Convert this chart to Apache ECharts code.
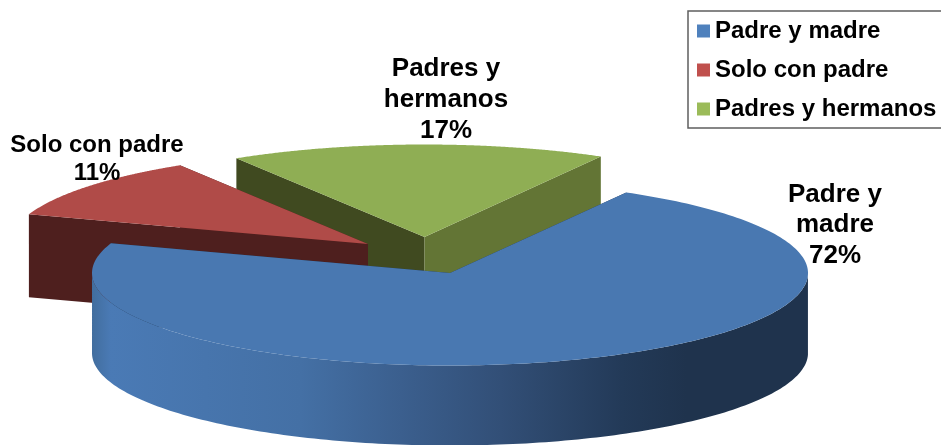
<!DOCTYPE html>
<html>
<head>
<meta charset="utf-8">
<style>html,body{margin:0;padding:0;background:#fff}#c{width:941px;height:445px}</style>
<script src="https://cdn.jsdelivr.net/npm/echarts@6/dist/echarts.min.js"></script>
</head>
<body>
<div id="c"></div>
<script>
const categories = ['Padre y madre', 'Solo con padre', 'Padres y hermanos'];
const values = [72, 11, 17];
const labelNames = ['Padre y\nmadre', 'Solo con padre', 'Padres y\nhermanos'];

const font = '"Liberation Sans", Arial, sans-serif';
const RX = 358, RY = 92.5, START_DEG = 60.5;
const layout = [
  {cx: 450, cy: 273, depth: 80, top: '#4978B1', faceA: '#1F334D', faceB: '#1F334D', legend: '#4F81BD', z: 4,
   label: {x: 835, y: 225, size: 26, lh: 30.5}},
  {cx: 368, cy: 244, depth: 83, top: '#B04B48', faceA: '#4E1F1E', faceB: '#4E1F1E', legend: '#C0504D', z: 3,
   label: {x: 97, y: 159, size: 24, lh: 28}},
  {cx: 424.5, cy: 237, depth: 83, top: '#8FAE54', faceA: '#404A20', faceB: '#637535', legend: '#9BBB59', z: 2,
   label: {x: 446, y: 100, size: 26, lh: 31}}
];
const total = values.reduce((a, b) => a + b, 0);
const sideGradient = new echarts.graphic.LinearGradient(93, 0, 808, 0, [
  {offset: 0, color: '#426E9F'}, {offset: 0.025, color: '#4A7AB5'}, {offset: 0.29, color: '#4470A5'},
  {offset: 0.43, color: '#3B5F8E'}, {offset: 0.57, color: '#324F77'}, {offset: 0.74, color: '#233A58'},
  {offset: 0.83, color: '#1F334D'}, {offset: 1, color: '#1F334D'}
], true);

function wedgeRange(i) {
  const before = values.slice(0, i).reduce((a, b) => a + b, 0);
  const a0 = START_DEG - before / total * 360;
  return [a0, a0 - values[i] / total * 360];
}
function renderWedge(i) {
  return function (params, api) {
    const L = layout[i];
    const [a0, a1] = wedgeRange(i);
    const pt = (deg, dz) => {
      const t = deg * Math.PI / 180;
      return [L.cx + RX * Math.cos(t), L.cy - RY * Math.sin(t) + (dz || 0)];
    };
    const arc = [];
    const steps = 240;
    for (let k = 0; k <= steps; k++) arc.push(a0 + (a1 - a0) * k / steps);
    const front = arc.filter(d => Math.sin(d * Math.PI / 180) <= 0);
    const face = (deg, color) => ({
      type: 'polygon',
      shape: {points: [pt(deg), pt(deg, L.depth), [L.cx, L.cy + L.depth], [L.cx, L.cy]]},
      style: {fill: color, stroke: null}
    });
    const children = [face(a1, L.faceB), face(a0, L.faceA)];
    if (i === 2) children.reverse();
    if (front.length > 1) {
      const pts = front.map(d => pt(d)).concat(front.slice().reverse().map(d => pt(d, L.depth)));
      children.push({type: 'polygon', shape: {points: pts}, style: {fill: sideGradient, stroke: null}});
    }
    children.push({
      type: 'polygon',
      shape: {points: [[L.cx, L.cy]].concat(arc.map(d => pt(d)))},
      style: {fill: L.top, stroke: null}
    });
    children.push({
      type: 'text',
      style: {
        x: L.label.x, y: L.label.y,
        text: labelNames[i] + '\n' + api.value(0) + '%',
        font: 'bold ' + L.label.size + 'px ' + font,
        lineHeight: L.label.lh,
        align: 'center', verticalAlign: 'middle', fill: '#000'
      }
    });
    return {type: 'group', children};
  };
}

const chart = echarts.init(document.getElementById('c'), null, {renderer: 'canvas'});
chart.setOption({
  animation: false,
  backgroundColor: '#fff',
  legend: {
    data: categories,
    orient: 'vertical',
    left: 688, top: 11,
    padding: [8, 12, 7, 9],
    itemWidth: 13, itemHeight: 13, itemGap: 15,
    icon: 'rect',
    selectedMode: false,
    borderColor: '#5f5f5f', borderWidth: 1.5,
    textStyle: {fontFamily: font, fontWeight: 'bold', fontSize: 24, color: '#000'}
  },
  series: categories.map((name, i) => ({
    type: 'custom',
    name,
    coordinateSystem: 'none',
    silent: true,
    z: layout[i].z,
    itemStyle: {color: layout[i].legend},
    data: [[values[i]]],
    renderItem: renderWedge(i)
  }))
});
</script>
</body>
</html>
